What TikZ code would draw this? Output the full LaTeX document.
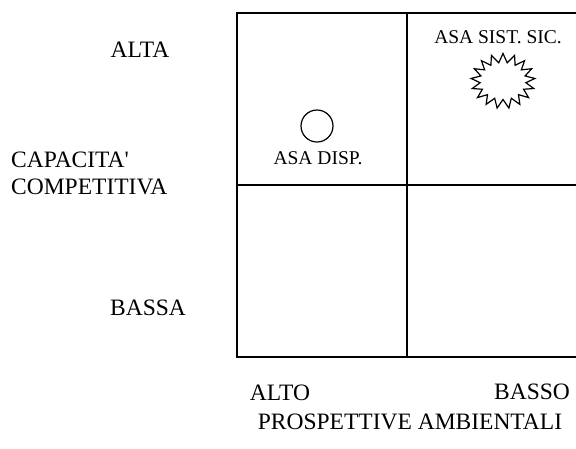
\documentclass[tikz,border=0pt]{standalone}
\usepackage{fontspec}
\setmainfont{Liberation Serif}
\usetikzlibrary{shapes.symbols}
\begin{document}
\begin{tikzpicture}[x=1pt,y=-1pt,
  grid/.style={line width=1.4pt,line cap=round},
  axis/.style={font=\fontsize{23.5}{27}\selectfont,inner sep=0pt},
  asa/.style={font=\fontsize{19.5}{22}\selectfont,inner sep=0pt}]
\useasboundingbox (0,0) rectangle (576,448);
% grid coordinates
\coordinate (tl) at (237,13);
\coordinate (tm) at (407,13);
\coordinate (tr) at (577,13);
\coordinate (ml) at (237,185);
\coordinate (mr) at (577,185);
\coordinate (bl) at (237,357);
\coordinate (bm) at (407,357);
\coordinate (br) at (577,357);
\draw[grid] (tr) -- (tl) -- (bl) -- (br);
\draw[grid] (tm) -- (bm);
\draw[grid] (ml) -- (mr);
% markers
\node[draw,circle,line width=1.2pt,minimum size=32pt,inner sep=0pt] (disp) at (317,126) {};
\node[asa] (displab) at (318,158) {ASA DISP.};
\node[asa] (sistlab) at (498,37) {ASA SIST. SIC.};
\node[draw,starburst,starburst points=17,starburst point height=9pt,random starburst=0,
      line width=1.2pt,minimum width=64pt,minimum height=55pt,inner sep=0pt] (sist) at (503,81) {};
% left labels
\node[axis] (alta) at (140,50) {ALTA};
\node[axis,anchor=west,align=left] (cap) at (11,173) {CAPACITA\textquotesingle\\COMPETITIVA};
\node[axis] (bassa) at (148,308) {BASSA};
% bottom labels
\node[axis] (alto) at (280,393) {ALTO};
\node[axis] (basso) at (532,392) {BASSO};
\node[axis] (prosp) at (410,422) {PROSPETTIVE AMBIENTALI};
\end{tikzpicture}
\end{document}
